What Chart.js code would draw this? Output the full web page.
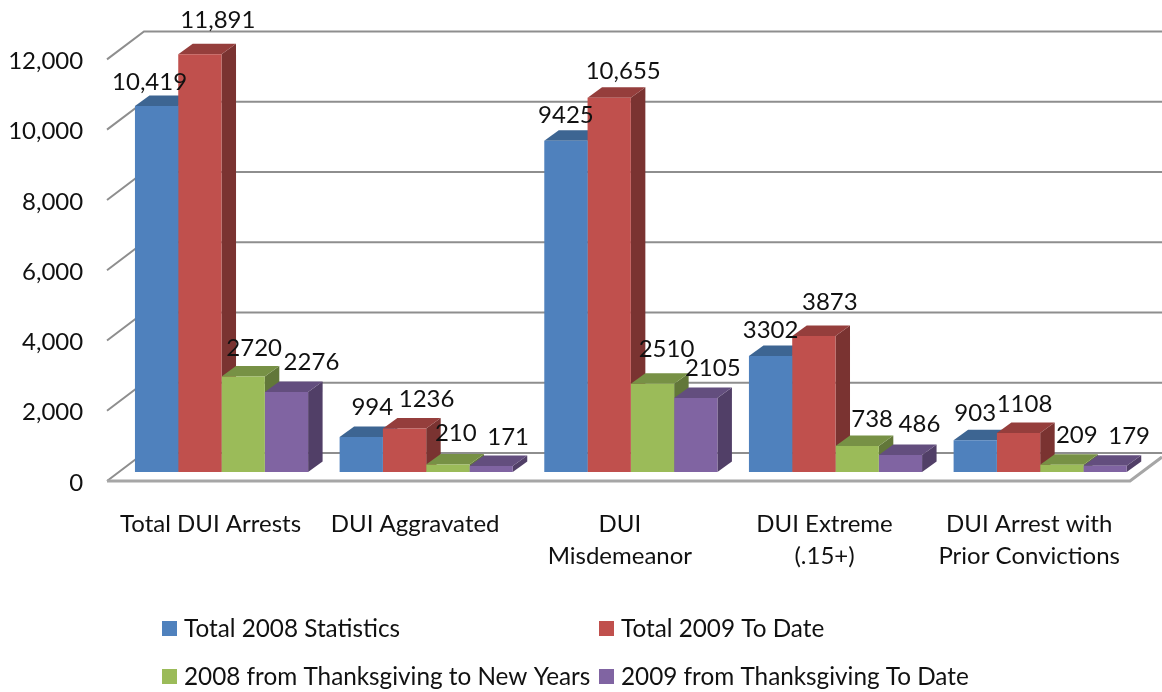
<!DOCTYPE html>
<html lang="en">

<head>
    <meta charset="UTF-8">
    <title>DUI Arrests</title>
    <script src="https://cdn.jsdelivr.net/npm/chart.js"></script>
    <style>
        html, body { margin: 0; padding: 0; background: #fff; }
        canvas { display: block; }
    </style>
</head>

<body>
    <canvas id="chart1" width="1162" height="692"></canvas>

    <script>
        // Chart data
        const categories = [
            'Total DUI Arrests',
            'DUI Aggravated',
            ['DUI', 'Misdemeanor'],
            ['DUI Extreme', '(.15+)'],
            ['DUI Arrest with', 'Prior Convictions']
        ];
        const seriesNames = [
            'Total 2008 Statistics',
            'Total 2009 To Date',
            '2008 from Thanksgiving to New Years',
            '2009 from Thanksgiving To Date'
        ];
        const total2008 = [10419, 994, 9425, 3302, 903];
        const total2009 = [11891, 1236, 10655, 3873, 1108];
        const holiday2008 = [2720, 210, 2510, 738, 209];
        const holiday2009 = [2276, 171, 2105, 486, 179];
        const yTicks = [0, 2000, 4000, 6000, 8000, 10000, 12000];

        // Colours: front, top, side
        const fronts = ['#4f81bd', '#c0504d', '#9bbb59', '#8064a2'];
        const tops = ['#3d6592', '#953e3c', '#779145', '#634e7e'];
        const sides = ['#335379', '#7a3331', '#627739', '#513f67'];

        // Where the value labels sit relative to the bar top centre, per series
        const labelDx = [
            [-7, 11, 0, 0, 0],
            [18, 22, 14, 16, 6],
            [11, 8, 14, 15, 15],
            [25, 17, 17, 19, 24]
        ];
        const labelDy = [
            [-24, -30, -26, -26, -27],
            [-34, -29, -26, -34, -29],
            [-28, -31, -35, -27, -29],
            [-30, -29, -30, -31, -29]
        ];

        const FONT = 'Lato';
        const FONT_SIZE = 24;
        const LEGEND_SIZE = 24.3;
        const textColor = '#111';
        const gridColor = '#8e8e8e';

        // bar depth and wall depth, in px
        const barDepth = { x: 14.5, y: -10.5 };
        const wallBack = { x: 144, dy: -19 };
        const wallFront = { x: 107, dy: 9 };

        // walls and floor
        function drawWalls(chart) {
            const ctx = chart.ctx;
            const y = chart.scales.y;
            ctx.save();
            ctx.strokeStyle = gridColor;
            ctx.lineWidth = 2;
            yTicks.forEach(function (v) {
                const py = y.getPixelForValue(v);
                ctx.beginPath();
                ctx.moveTo(wallFront.x, py + wallFront.dy);
                ctx.lineTo(wallBack.x, py + wallBack.dy);
                ctx.lineTo(1162, py + wallBack.dy);
                ctx.stroke();
            });
            // floor
            const base = y.getPixelForValue(0) + wallFront.dy;
            ctx.strokeStyle = '#a6a6a6';
            ctx.lineWidth = 3;
            ctx.beginPath();
            ctx.moveTo(wallFront.x, base);
            ctx.lineTo(1130, base);
            ctx.lineTo(1162, base - 24);
            ctx.stroke();
            ctx.restore();
        }

        function poly(ctx, color, pts) {
            ctx.fillStyle = color;
            ctx.beginPath();
            ctx.moveTo(pts[0][0], pts[0][1]);
            for (let i = 1; i < pts.length; i++) ctx.lineTo(pts[i][0], pts[i][1]);
            ctx.closePath();
            ctx.fill();
        }

        const bars3d = {
            id: 'bars3d',
            beforeDatasetsDraw(chart) {
                drawWalls(chart);
                const ctx = chart.ctx;
                const dx = barDepth.x, dy = barDepth.y;
                chart.data.datasets.forEach(function (ds, i) {
                    chart.getDatasetMeta(i).data.forEach(function (bar) {
                        const l = bar.x - bar.width / 2;
                        const r = bar.x + bar.width / 2;
                        poly(ctx, sides[i], [[r, bar.y], [r + dx, bar.y + dy], [r + dx, bar.base + dy], [r, bar.base]]);
                        poly(ctx, tops[i], [[l, bar.y], [l + dx, bar.y + dy], [r + dx, bar.y + dy], [r, bar.y]]);
                    });
                });
            },
            afterDatasetsDraw(chart) {
                const ctx = chart.ctx;
                ctx.save();
                ctx.font = FONT_SIZE + 'px ' + FONT;
                ctx.fillStyle = textColor;
                ctx.textAlign = 'center';
                ctx.textBaseline = 'middle';
                chart.data.datasets.forEach(function (ds, i) {
                    chart.getDatasetMeta(i).data.forEach(function (bar, j) {
                        const v = ds.data[j];
                        const txt = v >= 10000 ? v.toLocaleString('en-US') : String(v);
                        ctx.fillText(txt, bar.x + labelDx[i][j], bar.y + labelDy[i][j]);
                    });
                });
                // legend
                const cols = [162, 599];
                const rows = [628, 676];
                ctx.font = LEGEND_SIZE + 'px ' + FONT;
                ctx.textAlign = 'left';
                chart.data.datasets.forEach(function (ds, i) {
                    const x = cols[i % 2], y = rows[Math.floor(i / 2)];
                    ctx.fillStyle = fronts[i];
                    ctx.fillRect(x, y - 7, 15, 15);
                    ctx.fillStyle = textColor;
                    ctx.fillText(ds.label, x + 22, y + 1);
                });
                ctx.restore();
            }
        };

        const allSeries = [total2008, total2009, holiday2008, holiday2009];

        new Chart(document.getElementById('chart1').getContext('2d'), {
            type: 'bar',
            data: {
                labels: categories,
                datasets: allSeries.map(function (values, i) {
                    return {
                        label: seriesNames[i],
                        data: values,
                        backgroundColor: fronts[i],
                        borderWidth: 0,
                        barPercentage: 1,
                        categoryPercentage: 0.846
                    };
                })
            },
            options: {
                responsive: false,
                animation: false,
                layout: { padding: { top: 50, right: 19.5, left: 0, bottom: 0 } },
                plugins: { legend: { display: false }, tooltip: { enabled: false } },
                scales: {
                    x: {
                        grid: { display: false },
                        border: { display: false },
                        afterFit: function (scale) { scale.height = 220; },
                        ticks: {
                            font: { family: FONT, size: FONT_SIZE, lineHeight: 1.33 },
                            color: textColor,
                            maxRotation: 0,
                            autoSkip: false,
                            labelOffset: -11,
                            padding: 28
                        }
                    },
                    y: {
                        min: 0,
                        max: 12000,
                        grid: { display: false, drawTicks: false },
                        border: { display: false },
                        afterFit: function (scale) { scale.width = 119.2; },
                        afterBuildTicks: function (scale) {
                            scale.ticks = yTicks.map(function (v) { return { value: v }; });
                        },
                        ticks: {
                            font: { family: FONT, size: FONT_SIZE },
                            color: textColor,
                            labelOffset: 11,
                            padding: 36,
                            callback: function (v) { return v.toLocaleString('en-US'); }
                        }
                    }
                }
            },
            plugins: [bars3d]
        });
    </script>

</body>

</html>
